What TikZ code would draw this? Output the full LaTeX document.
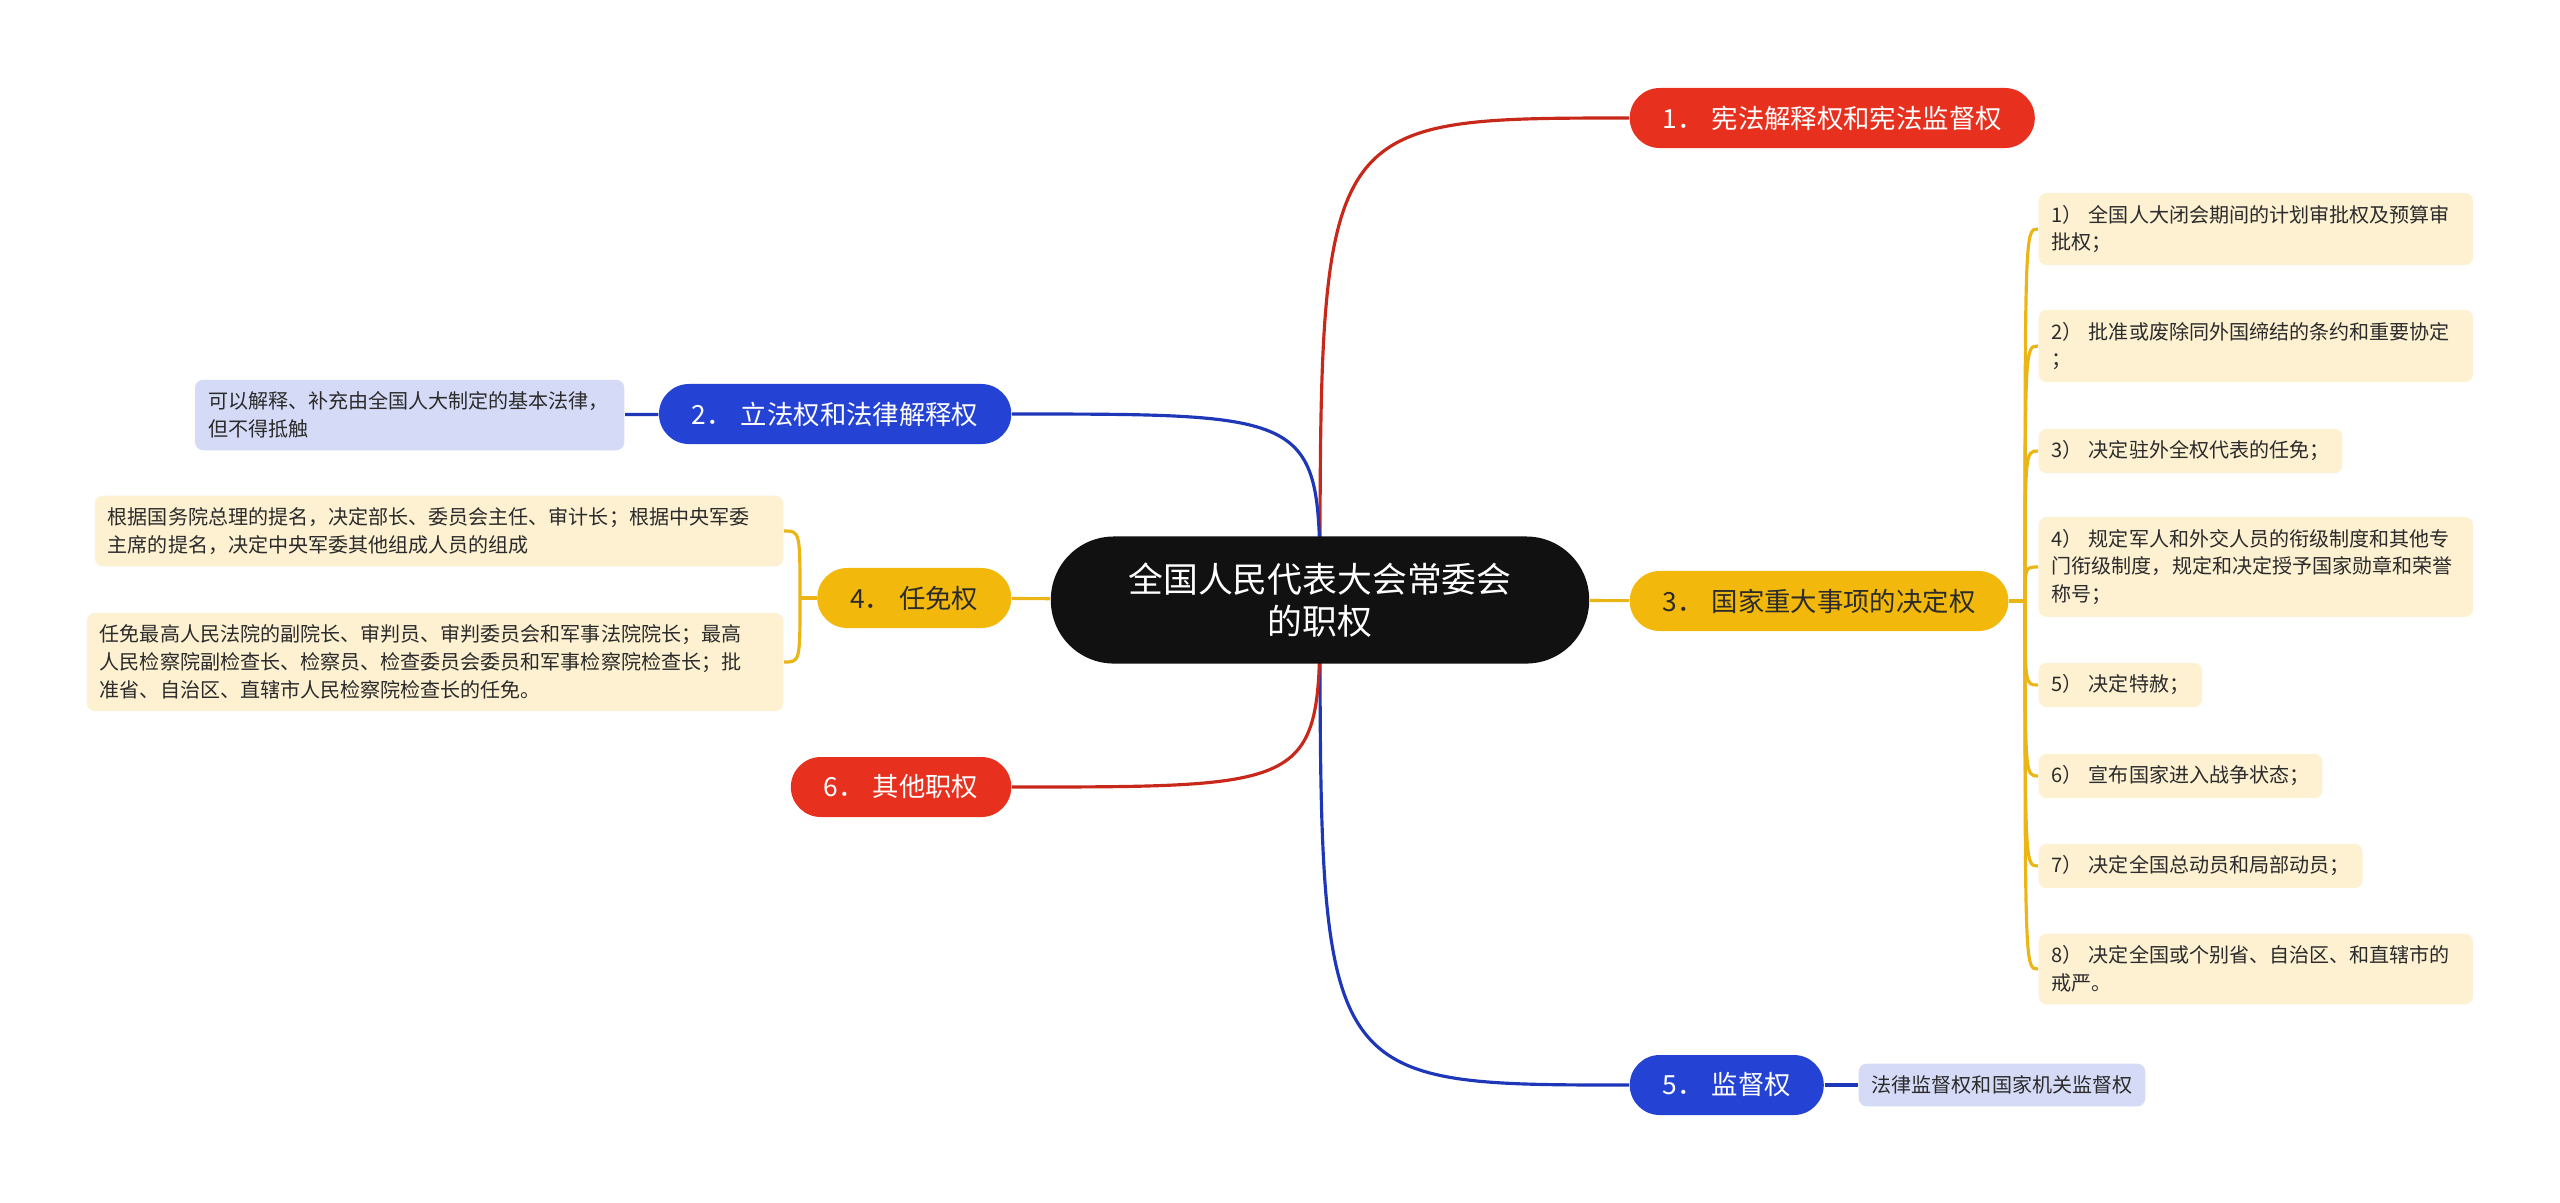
\documentclass[tikz,border=0pt]{standalone}
\usepackage{fontspec}
\setmainfont{Noto Sans CJK SC}
\usepackage{xcolor}
\usepackage{tikz}
\usetikzlibrary{backgrounds, calc}
\definecolor{rootblack}{HTML}{111111}
\definecolor{branchred}{HTML}{E8301F}
\definecolor{branchblue}{HTML}{2443D4}
\definecolor{branchyellow}{HTML}{F2B90C}
\definecolor{leafcream}{HTML}{FDF1D2}
\definecolor{leafblue}{HTML}{D5DAF6}
\definecolor{inkgray}{HTML}{2B2B2B}
\definecolor{linered}{HTML}{C8281A}
\definecolor{lineblue}{HTML}{1E36B8}
\definecolor{lineyellow}{HTML}{ECB516}
\newcommand{\itemgap}{\hspace{0.3em}}

\begin{document}
\begin{tikzpicture}[
    x=0.01cm, y=-0.01cm,
    rootbox/.style={
        fill=rootblack, text=white,
        rounded corners=0.63cm,
        minimum width=5.38cm, minimum height=1.27cm,
        align=center, font=\fontsize{9.9}{12}\selectfont,
    },
    topic/.style={
        rounded corners=0.3cm, minimum height=0.6cm,
        inner xsep=0.33cm, inner ysep=0pt,
        font=\fontsize{7.5}{9}\selectfont,
    },
    redtopic/.style={topic, fill=branchred, text=white},
    bluetopic/.style={topic, fill=branchblue, text=white},
    yeltopic/.style={topic, fill=branchyellow, text=inkgray},
    leaf/.style={
        rounded corners=0.08cm,
        inner xsep=0.13cm, inner ysep=0.12cm,
        align=left, text=inkgray,
        font=\fontsize{5.7}{7.9}\selectfont,
    },
    creamleaf/.style={leaf, fill=leafcream},
    blueleaf/.style={leaf, fill=leafblue},
    branchline/.style={line width=0.9pt},
]
\useasboundingbox (0,0) rectangle (2560,1202);

\node[rootbox] (root) at (1320,600) {全国人民代表大会常委会\\的职权};

\node[redtopic, anchor=west] (n1) at (1629,118) {1．\itemgap 宪法解释权和宪法监督权};
\node[bluetopic, anchor=east] (n2) at (1012,414) {2．\itemgap 立法权和法律解释权};
\node[yeltopic, anchor=west] (n3) at (1629,601) {3．\itemgap 国家重大事项的决定权};
\node[yeltopic, anchor=east] (n4) at (1012,598) {4．\itemgap 任免权};
\node[bluetopic, anchor=west] (n5) at (1629,1085) {5．\itemgap 监督权};
\node[redtopic, anchor=east] (n6) at (1012,787) {6．\itemgap 其他职权};

\node[blueleaf, anchor=east, text width=4.03cm] (g2) at (625,415) {可以解释、补充由全国人大制定的基本法律，\\但不得抵触};
\node[blueleaf, anchor=west] (g5) at (1858,1085) {法律监督权和国家机关监督权};

\node[creamleaf, anchor=east, text width=6.62cm] (r1) at (784,531) {根据国务院总理的提名，决定部长、委员会主任、审计长；根据中央军委\\主席的提名，决定中央军委其他组成人员的组成};
\node[creamleaf, anchor=east, text width=6.7cm] (r2) at (784,662) {任免最高人民法院的副院长、审判员、审判委员会和军事法院院长；最高\\人民检察院副检查长、检察员、检查委员会委员和军事检察院检查长；批\\准省、自治区、直辖市人民检察院检查长的任免。};

\node[creamleaf, anchor=west, text width=4.08cm] (d1) at (2038,229) {1）\itemgap 全国人大闭会期间的计划审批权及预算审\\批权；};
\node[creamleaf, anchor=west, text width=4.08cm] (d2) at (2038,346) {2）\itemgap 批准或废除同外国缔结的条约和重要协定\\；};
\node[creamleaf, anchor=west] (d3) at (2038,451) {3）\itemgap 决定驻外全权代表的任免；};
\node[creamleaf, anchor=west, text width=4.08cm] (d4) at (2038,567) {4）\itemgap 规定军人和外交人员的衔级制度和其他专\\门衔级制度，规定和决定授予国家勋章和荣誉\\称号；};
\node[creamleaf, anchor=west] (d5) at (2038,685) {5）\itemgap 决定特赦；};
\node[creamleaf, anchor=west] (d6) at (2038,776) {6）\itemgap 宣布国家进入战争状态；};
\node[creamleaf, anchor=west] (d7) at (2038,866) {7）\itemgap 决定全国总动员和局部动员；};
\node[creamleaf, anchor=west, text width=4.08cm] (d8) at (2038,969) {8）\itemgap 决定全国或个别省、自治区、和直辖市的\\戒严。};

\coordinate (stem3) at (2025,601);
\coordinate (stem4) at (800,598);

\begin{scope}[on background layer]
\draw[branchline, linered] (root.center) .. controls (root.center |- n1.west) .. (n1.west);
\draw[branchline, lineblue] (root.center) .. controls (root.center |- n2.east) .. (n2.east);
\draw[branchline, lineblue] (root.center) .. controls (root.center |- n5.west) .. (n5.west);
\draw[branchline, linered] (root.center) .. controls (root.center |- n6.east) .. (n6.east);
\draw[branchline, lineyellow] (root) -- (n3);
\draw[branchline, lineyellow] (root) -- (n4);
\draw[branchline, lineblue] (n2) -- (g2);
\draw[branchline, lineblue] (n5) -- (g5);
\draw[branchline, lineyellow] (n3.east) -- (stem3);
\foreach \i in {1,...,8}
    \draw[branchline, lineyellow] (stem3) .. controls (stem3 |- d\i.west) .. (d\i.west);
\draw[branchline, lineyellow] (n4.west) -- (stem4);
\foreach \i in {1,2}
    \draw[branchline, lineyellow] (stem4) .. controls (stem4 |- r\i.east) .. (r\i.east);
\end{scope}
\end{tikzpicture}
\end{document}
